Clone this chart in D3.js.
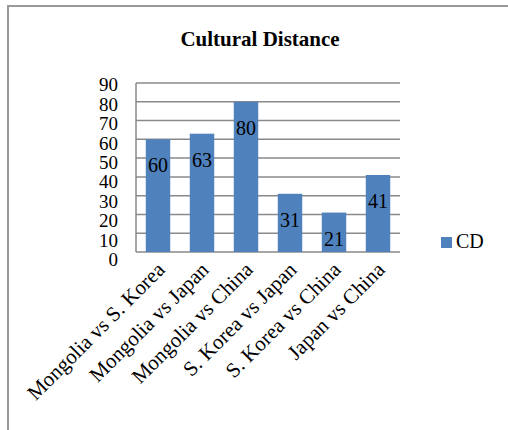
<!DOCTYPE html>
<html>
<head>
<meta charset="utf-8">
<script src="https://cdn.jsdelivr.net/npm/d3@7"></script>
<style>
  body { margin: 0; background: #fff; }
  text { font-family: "Liberation Serif", "Times New Roman", serif; fill: #000; }
</style>
</head>
<body>
<div id="chart"></div>
<script>
// data
var categories = ["Mongolia vs S. Korea", "Mongolia vs Japan", "Mongolia vs China",
                  "S. Korea vs Japan", "S. Korea vs China", "Japan vs China"];
var values = [60, 63, 80, 31, 21, 41];
var yTicks = [0, 10, 20, 30, 40, 50, 60, 70, 80, 90];
var seriesName = "CD";

var width = 508, height = 430;
var margin = {top: 83, right: 108, bottom: 178, left: 136};
var plotW = width - margin.left - margin.right,
    plotH = height - margin.top - margin.bottom;

var svg = d3.select("#chart").append("svg")
    .attr("width", width)
    .attr("height", height);

// frame (only top and left edges show)
svg.append("path")
    .attr("d", "M8,430 V6 H508")
    .attr("fill", "none")
    .attr("stroke", "#999")
    .attr("stroke-width", 2);

svg.append("text")
    .attr("x", 260)
    .attr("y", 46)
    .attr("text-anchor", "middle")
    .style("font-size", "21px")
    .style("font-weight", "bold")
    .text("Cultural Distance");

var g = svg.append("g")
    .attr("transform", "translate(" + margin.left + "," + margin.top + ")");

var x = d3.scaleBand()
    .domain(categories)
    .range([0, plotW])
    .paddingInner(0.444)
    .paddingOuter(0.222);

var y = d3.scaleLinear().domain([0, 90]).range([plotH, 0]);
// tick labels sit a little lower than the gridlines, more so near 0
var yLab = d3.scaleLinear().domain([0, 90]).range([plotH + 8, 2]);

// gridlines
g.selectAll(".grid")
    .data(yTicks)
  .enter().append("line")
    .attr("class", "grid")
    .attr("x1", 0)
    .attr("x2", plotW)
    .attr("y1", function(d) { return y(d); })
    .attr("y2", function(d) { return y(d); })
    .attr("stroke", "#8a8a8a")
    .attr("stroke-width", 1.5);

// axis line
g.append("line")
    .attr("x1", 0).attr("x2", 0)
    .attr("y1", 0).attr("y2", plotH)
    .attr("stroke", "#8a8a8a").attr("stroke-width", 1.5);

g.selectAll(".ylab")
    .data(yTicks)
  .enter().append("text")
    .attr("class", "ylab")
    .attr("x", -18)
    .attr("y", function(d) { return yLab(d); })
    .attr("dy", "0.33em")
    .attr("text-anchor", "end")
    .style("font-size", "19px")
    .text(function(d) { return d; });

// bars
g.selectAll(".bar")
    .data(values)
  .enter().append("rect")
    .attr("class", "bar")
    .attr("x", function(d, i) { return x(categories[i]); })
    .attr("width", x.bandwidth())
    .attr("y", function(d) { return y(d); })
    .attr("height", function(d) { return plotH - y(d); })
    .attr("fill", "#4f81bd");

// value labels, inside end
g.selectAll(".vlab")
    .data(values)
  .enter().append("text")
    .attr("class", "vlab")
    .attr("x", function(d, i) { return x(categories[i]) + x.bandwidth() / 2; })
    .attr("y", function(d) { return y(d) + 33; })
    .attr("text-anchor", "middle")
    .style("font-size", "20px")
    .text(function(d) { return d; });

// category labels, rotated 45 degrees
g.selectAll(".xlab")
    .data(categories)
  .enter().append("text")
    .attr("class", "xlab")
    .attr("transform", function(d) {
      return "translate(" + (x(d) + x.bandwidth() / 2 + 8) + "," + (plotH + 19) + ") rotate(-45)";
    })
    .attr("text-anchor", "end")
    .style("font-size", "21px")
    .text(function(d) { return d; });

// legend
var legend = svg.append("g").attr("transform", "translate(441,237)");
legend.append("rect")
    .attr("width", 11).attr("height", 11)
    .attr("fill", "#4f81bd");
legend.append("text")
    .attr("x", 15)
    .attr("y", 11)
    .style("font-size", "20px")
    .text(seriesName);
</script>
</body>
</html>
